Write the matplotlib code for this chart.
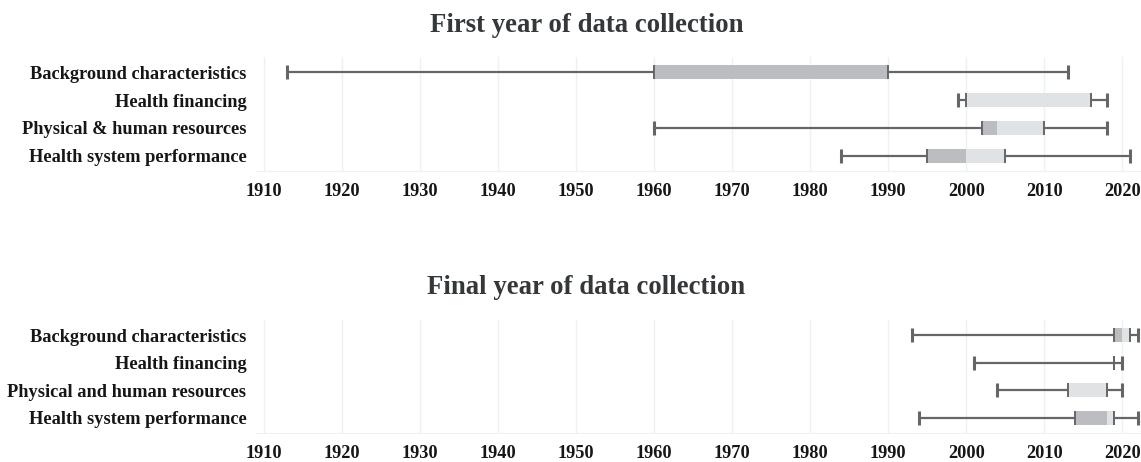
import numpy as np
import matplotlib
matplotlib.use("Agg")
import matplotlib.pyplot as plt

# ---- data (years) ----------------------------------------------------
first_labels = ["Background characteristics", "Health financing",
                "Physical & human resources", "Health system performance"]
first_min = [1913, 1999, 1960, 1984]
first_q1 = [1960, 2000, 2002, 1995]
first_med = [1990, 2000, 2004, 2000]
first_q3 = [1990, 2016, 2010, 2005]
first_max = [2013, 2018, 2018, 2021]

final_labels = ["Background characteristics", "Health financing",
                "Physical and human resources", "Health system performance"]
final_min = [1993, 2001, 2004, 1994]
final_q1 = [2019, 2019, 2013, 2014]
final_med = [2020, 2019, 2013, 2018]
final_q3 = [2021, 2019, 2018, 2019]
final_max = [2022, 2020, 2020, 2022]

ticks = list(range(1910, 2021, 10))

WHISK, DARK, LIGHT, GRID = "#656668", "#bbbdc0", "#e0e3e6", "#edf1f2"
plt.rcParams.update({"font.family": ["Liberation Serif", "DejaVu Serif"],
                     "font.weight": "bold"})

fig = plt.figure(figsize=(11.41, 4.62), dpi=100)


def panel(rect, title, title_y, labels, mn, q1, med, q3, mx):
    ax = fig.add_axes(rect)
    y = np.arange(len(labels))
    h = 0.5
    ax.barh(y, np.subtract(med, q1), left=q1, height=h, color=DARK, zorder=2)
    ax.barh(y, np.subtract(q3, med), left=med, height=h, color=LIGHT, zorder=2)
    ax.hlines(y, mn, q1, color=WHISK, lw=1.6, zorder=3)
    ax.hlines(y, q3, mx, color=WHISK, lw=1.6, zorder=3)
    ax.vlines(mn, y - h / 2, y + h / 2, color=WHISK, lw=2.2, zorder=3)
    ax.vlines(mx, y - h / 2, y + h / 2, color=WHISK, lw=2.2, zorder=3)
    ax.vlines(q1, y - h / 2, y + h / 2, color=WHISK, lw=1.4, zorder=3)
    ax.vlines(q3, y - h / 2, y + h / 2, color=WHISK, lw=1.4, zorder=3)
    ax.set_xlim(1909, 2022.4)
    ax.set_ylim(len(labels) - 0.45, -0.55)
    ax.set_yticks(y, labels)
    ax.set_xticks(ticks)
    ax.grid(axis="x", color=GRID, lw=1, zorder=0)
    for s in ["top", "right", "left"]:
        ax.spines[s].set_visible(False)
    ax.spines["bottom"].set_color(GRID)
    ax.tick_params(length=0, labelsize=13.2, colors="#161616")
    ax.tick_params(axis="x", pad=9)
    ax.tick_params(axis="y", pad=7)
    fig.text(0.514, title_y, title, ha="center", va="center",
             fontsize=19.3, color="#35383b", weight="bold")
    return ax


panel([0.2244, 0.6299, 0.7756, 0.2467], "First year of data collection",
      1 - 25 / 462, first_labels, first_min, first_q1, first_med, first_q3,
      first_max)
panel([0.2244, 0.0628, 0.7756, 0.2446], "Final year of data collection",
      1 - 288 / 462, final_labels, final_min, final_q1, final_med, final_q3,
      final_max)

fig.savefig("out.png")
